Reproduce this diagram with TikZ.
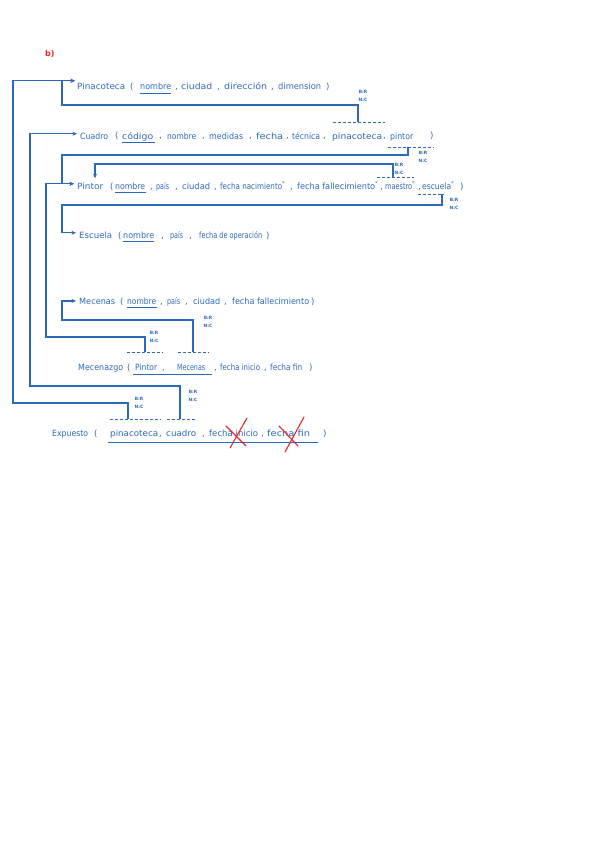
\documentclass[tikz,border=0pt]{standalone}
\usepackage{fontspec}
\setmainfont{DejaVu Sans}
\usepackage{graphicx}
\usetikzlibrary{arrows.meta,calc}
\definecolor{ink}{RGB}{45,105,185}
\definecolor{redink}{RGB}{232,40,40}
\newcommand\wrd[5]{\node[txt] (#1) at (#2,#3) {\resizebox{#4pt}{\height}{#5}};}
\newcommand\pun[4]{\node[txt] (#1) at (#2,#3) {#4};}
\newcommand\rlab[3]{\node[lab] (#1) at (#2,#3) {B:R\\N:C};}
\newcommand\st{\raisebox{3.5pt}{\fontsize{5.5}{6}\selectfont*}}
\begin{document}
\begin{tikzpicture}[x=1pt,y=-1pt,
 txt/.style={anchor=base west,inner sep=0pt,text=ink,font=\fontsize{8.6}{9}\selectfont},
 lab/.style={inner sep=0pt,text=ink,font=\fontsize{4.4}{8}\selectfont\bfseries,align=center},
 link/.style={draw=ink,line width=1.15pt},
 arr/.style={link,-{Stealth[length=4.5pt,width=4pt]}},
 fk/.style={draw=ink,line width=0.9pt,dash pattern=on 3pt off 2pt},
 pk/.style={draw=ink,line width=0.9pt},
 cross/.style={draw=redink,line width=1.1pt,line cap=round}]
\useasboundingbox (0,0) rectangle (600,848);

\node[anchor=base west,inner sep=0pt,text=redink,font=\fontsize{8}{9}\selectfont\bfseries] (title) at (45,57) {b)};

% Pinacoteca
\wrd{pinac}{77}{90}{48}{Pinacoteca}
\pun{pa1}{130}{90}{(}
\wrd{pa2}{140}{90}{31}{nombre}
\pun{pa3}{175}{90}{,}
\wrd{pa4}{181}{90}{31}{ciudad}
\pun{pa5}{217}{90}{,}
\wrd{pa6}{224}{90}{43}{dirección}
\pun{pa7}{271}{90}{,}
\wrd{pa8}{278}{90}{43}{dimension}
\pun{pa9}{326}{90}{)}
\draw[pk] (140,93) -- (171,93);

% Cuadro
\wrd{cuadro}{80}{139}{28}{Cuadro}
\pun{cb1}{115}{139}{(}
\wrd{cb2}{122}{139}{31}{código}
\pun{cb3}{159}{139}{,}
\wrd{cb4}{167}{139}{29}{nombre}
\pun{cb5}{202}{139}{,}
\wrd{cb6}{209}{139}{34}{medidas}
\pun{cb7}{249}{139}{,}
\wrd{cb8}{256}{139}{27}{fecha}
\pun{cb9}{286}{139}{,}
\wrd{cb10}{292}{139}{28}{técnica}
\pun{cb11}{323}{139}{,}
\wrd{cb12}{332}{139}{50}{pinacoteca}
\pun{cb13}{383}{139}{,}
\wrd{cb14}{390}{139}{23}{pintor}
\pun{cb15}{430}{139}{)}
\draw[pk] (122,142) -- (155,142);
\draw[fk] (333,122) -- (385,122);
\coordinate (fkA) at (358,122);
\draw[fk] (388,147) -- (434,147);
\coordinate (fkB) at (408,147);

% Pintor
\wrd{pintor}{77}{189}{26}{Pintor}
\pun{pc1}{110}{189}{(}
\wrd{pc2}{115}{189}{30}{nombre}
\pun{pc3}{150}{189}{,}
\wrd{pc4}{156}{189}{13}{país}
\pun{pc5}{175}{189}{,}
\wrd{pc6}{182}{189}{28}{ciudad}
\pun{pc7}{214}{189}{,}
\node[txt] (pc8) at (220,189) {\resizebox{62pt}{\height}{fecha nacimiento}\st};
\pun{pc9}{290}{189}{,}
\node[txt] (pc10) at (297,189) {\resizebox{78pt}{\height}{fecha fallecimiento}\st};
\pun{pc11}{380}{189}{,}
\node[txt] (pc12) at (385,189) {\resizebox{27pt}{\height}{maestro}\st};
\pun{pc13}{418}{189}{,}
\node[txt] (pc14) at (422,189) {\resizebox{29pt}{\height}{escuela}\st};
\pun{pc15}{460}{189}{)}
\draw[pk] (115,192) -- (146,192);
\draw[fk] (377,177) -- (414,177);
\coordinate (fkC) at (393,177);
\draw[fk] (418,194) -- (444,194);
\coordinate (fkD) at (442,194);

% Escuela
\wrd{escuela}{79}{238}{33}{Escuela}
\pun{pd1}{118}{238}{(}
\wrd{pd2}{123}{238}{31}{nombre}
\pun{pd3}{161}{238}{,}
\wrd{pd4}{170}{238}{13}{país}
\pun{pd5}{189}{238}{,}
\wrd{pd6}{199}{238}{63}{fecha de operación}
\pun{pd7}{266}{238}{)}
\draw[pk] (123,241) -- (154,241);

% Mecenas
\wrd{mecenas}{79}{304}{36}{Mecenas}
\pun{pe1}{120}{304}{(}
\wrd{pe2}{127}{304}{29}{nombre}
\pun{pe3}{160}{304}{,}
\wrd{pe4}{167}{304}{13}{país}
\pun{pe5}{185}{304}{,}
\wrd{pe6}{193}{304}{27}{ciudad}
\pun{pe7}{224}{304}{,}
\wrd{pe8}{232}{304}{77}{fecha fallecimiento}
\pun{pe9}{311}{304}{)}
\draw[pk] (127,307) -- (157,307);

% Mecenazgo
\wrd{mecenazgo}{78}{370}{45}{Mecenazgo}
\pun{pf1}{127}{370}{(}
\wrd{pf2}{135}{370}{22}{Pintor}
\pun{pf3}{162}{370}{,}
\wrd{pf4}{177}{370}{28}{Mecenas}
\pun{pf5}{214}{370}{,}
\wrd{pf6}{220}{370}{40}{fecha inicio}
\pun{pf7}{264}{370}{,}
\wrd{pf8}{270}{370}{32}{fecha fin}
\pun{pf9}{309}{370}{)}
\draw[pk] (133,374) -- (212,374);
\draw[fk] (127,352) -- (163,352);
\coordinate (fkM1) at (145,352);
\draw[fk] (178,352) -- (209,352);
\coordinate (fkM2) at (193,352);

% Expuesto
\wrd{expuesto}{52}{436}{36}{Expuesto}
\pun{pg1}{94}{436}{(}
\wrd{pg2}{110}{436}{48}{pinacoteca}
\pun{pg3}{159}{436}{,}
\wrd{pg4}{166}{436}{30}{cuadro}
\pun{pg5}{202}{436}{,}
\wrd{pg6}{209}{436}{49}{fecha inicio}
\pun{pg7}{261}{436}{,}
\wrd{pg8}{267}{436}{43}{fecha fin}
\pun{pg9}{323}{436}{)}
\draw[pk] (108,442) -- (318,442);
\draw[fk] (110,419) -- (161,419);
\coordinate (fkE1) at (128,419);
\draw[fk] (167,419) -- (196,419);
\coordinate (fkE2) at (180,419);

% crosses
\draw[cross] (226,426) -- (246,446);
\draw[cross] (247,418) -- (230,448);
\draw[cross] (279,426) -- (298,446);
\draw[cross] (304,417) -- (285,452);

% arrow targets
\coordinate (inPin) at ($(pinac.west)+(-2,-6)$);
\coordinate (inCua) at ($(cuadro.west)+(-3,-2)$);
\coordinate (inPint) at ($(pintor.west)+(-3,-2)$);
\coordinate (inPintTop) at ($(pintor.north west)+(18,-4)$);
\coordinate (inEsc) at ($(escuela.west)+(-3,-2)$);
\coordinate (inMec) at ($(mecenas.west)+(-3,0)$);

% connectors
\draw[arr] (fkA) |- (62,105) |- (inPin);
\draw[arr] (fkE1) |- (13,403) |- (inPin);
\draw[arr] (fkE2) |- (30,386) |- (inCua);
\draw[arr] (fkB) |- (62,155) |- (inPint);
\draw[arr] (fkM1) |- (46,337) |- (inPint);
\draw[arr] (fkC) |- (95,164) -- (inPintTop);
\draw[arr] (fkD) |- (62,205) |- (inEsc);
\draw[arr] (fkM2) |- (62,320) |- (inMec);

% cardinality labels
\rlab{l1}{363}{96}
\rlab{l2}{423}{157}
\rlab{l3}{399}{169}
\rlab{l4}{454}{204}
\rlab{l5}{208}{322}
\rlab{l6}{154}{337}
\rlab{l7}{139}{403}
\rlab{l8}{193}{396}
\end{tikzpicture}
\end{document}
